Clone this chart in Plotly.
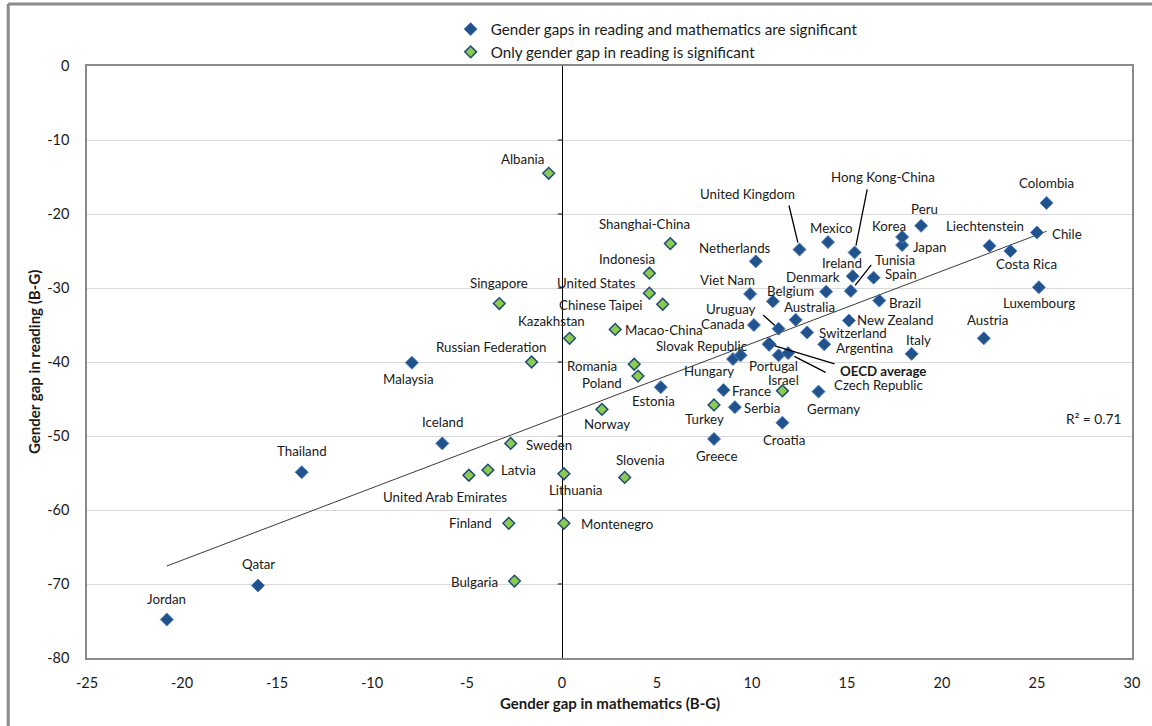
import numpy as np
import plotly.graph_objects as go

# Gender gaps (boys minus girls), PISA score points
# Countries where both reading and mathematics gaps are significant
both_names = [
    "Jordan", "Qatar", "Thailand", "Malaysia", "Iceland", "Estonia", "Greece",
    "France", "Hungary", "Slovak Republic", "Serbia", "Viet Nam", "Canada",
    "Netherlands", "Belgium", "Uruguay", "Portugal", "Croatia", "Czech Republic",
    "Australia", "United Kingdom", "Switzerland", "Germany", "Argentina",
    "Denmark", "Mexico", "New Zealand", "Tunisia", "Ireland", "Hong Kong-China",
    "Spain", "Brazil", "Japan", "Korea", "Italy", "Peru", "Austria",
    "Liechtenstein", "Costa Rica", "Chile", "Luxembourg", "Colombia",
]
both_math = [
    -20.8, -16.0, -13.7, -7.9, -6.3, 5.2, 8.0,
    8.5, 9.0, 9.4, 9.1, 9.9, 10.1,
    10.2, 11.1, 11.4, 11.4, 11.6, 11.9,
    12.3, 12.5, 12.9, 13.5, 13.8,
    13.9, 14.0, 15.1, 15.2, 15.3, 15.4,
    16.4, 16.7, 17.9, 17.9, 18.4, 18.9, 22.2,
    22.5, 23.6, 25.0, 25.1, 25.5,
]
both_read = [
    -74.8, -70.2, -54.9, -40.1, -51.0, -43.4, -50.4,
    -43.8, -39.6, -39.1, -46.1, -30.8, -35.0,
    -26.4, -31.8, -35.5, -39.1, -48.2, -38.8,
    -34.3, -24.8, -36.0, -44.0, -37.6,
    -30.5, -23.8, -34.4, -30.4, -28.4, -25.2,
    -28.6, -31.7, -24.2, -23.1, -38.9, -21.6, -36.8,
    -24.3, -25.0, -22.5, -29.9, -18.5,
]

# Countries where only the reading gap is significant
read_names = [
    "Albania", "Shanghai-China", "Indonesia", "Singapore", "United States",
    "Chinese Taipei", "Kazakhstan", "Macao-China", "Russian Federation",
    "Romania", "Poland", "Norway", "Sweden", "Latvia", "United Arab Emirates",
    "Lithuania", "Slovenia", "Finland", "Montenegro", "Bulgaria", "Turkey",
    "Israel",
]
read_math = [
    -0.7, 5.7, 4.6, -3.3, 4.6,
    5.3, 0.4, 2.8, -1.6,
    3.8, 4.0, 2.1, -2.7, -3.9, -4.9,
    0.1, 3.3, -2.8, 0.1, -2.5, 8.0,
    11.6,
]
read_read = [
    -14.5, -24.0, -28.0, -32.1, -30.7,
    -32.2, -36.8, -35.6, -40.0,
    -40.3, -41.9, -46.4, -51.0, -54.6, -55.3,
    -55.1, -55.6, -61.8, -61.8, -69.6, -45.8,
    -43.9,
]

oecd_name = "OECD average"
oecd_math = 10.9
oecd_read = -37.6

# Linear trend (reading gap = slope * maths gap + intercept) and its fit
trend_slope = 0.977
trend_intercept = -47.25
r2_text = "R² = 0.71"

x_ticks = [-25, -20, -15, -10, -5, 0, 5, 10, 15, 20, 25, 30]
x_tick_labels = ["-25", "-20", "-15", "-10", "-5", "0", "5", "10", "15", "20", "25", "30"]
y_ticks = [0, -10, -20, -30, -40, -50, -60, -70, -80]
y_tick_labels = ["0", "-10", "-20", "-30", "-40", "-50", "-60", "-70", "-80"]

# Label placement: pixel offset (dx, dy) of the label centre from its marker
label_offset = {
    "Jordan": (0, -21), "Qatar": (0, -21), "Thailand": (0, -21),
    "Malaysia": (-3, 16), "Iceland": (0, -21), "Estonia": (-7, 14),
    "Greece": (2, 17), "France": (28, 1), "Hungary": (-24, 12),
    "Slovak Republic": (-39, -9), "Serbia": (27, 1), "Viet Nam": (-23, -14),
    "Canada": (-31, -1), "Netherlands": (-21, -13), "Belgium": (18, -10),
    "Portugal": (-5, 11), "Croatia": (2, 17), "Australia": (14, -13),
    "Switzerland": (46, 1), "Germany": (15, 17), "Argentina": (40, 4),
    "Denmark": (-13, -15), "Mexico": (3, -14), "New Zealand": (46, -1),
    "Ireland": (-11, -13), "Spain": (27, -4), "Brazil": (26, 2),
    "Japan": (27, 2), "Korea": (-13, -11), "Italy": (7, -14),
    "Peru": (3, -17), "Austria": (4, -18), "Liechtenstein": (-5, -20),
    "Costa Rica": (16, 13), "Chile": (30, 1), "Luxembourg": (0, 16),
    "Colombia": (0, -20),
    "Albania": (-26, -14), "Shanghai-China": (-26, -20), "Indonesia": (-22, -14),
    "Singapore": (0, -21), "United States": (-53, -10), "Chinese Taipei": (-62, 1),
    "Kazakhstan": (-18, -17), "Macao-China": (49, 1), "Russian Federation": (-41, -15),
    "Romania": (-42, 2), "Poland": (-36, 7), "Norway": (5, 15),
    "Sweden": (38, 2), "Latvia": (31, 0), "United Arab Emirates": (-24, 22),
    "Lithuania": (12, 16), "Slovenia": (16, -17), "Finland": (-38, 0),
    "Montenegro": (53, 1), "Bulgaria": (-40, 1), "Turkey": (-10, 14),
    "Israel": (1, -11),
}
# Labels joined to their marker by a leader line:
# (label dx, label dy, line tail dx, line tail dy, standoff)
leader = {
    "United Kingdom": (-52, -56, -11, -46, 7),
    "Hong Kong-China": (28, -75, 13, -65, 7),
    "Tunisia": (44, -31, 22, -28, 7),
    "Uruguay": (-48, -20, -17, -15, 5),
    "OECD average": (114, 27, 67, 20, 6),
    "Czech Republic": (91, 32, 39, 20, 7),
}

FONT = "Lato"
TXT = "#1a1a1a"
BLUE_FILL = "#22528C"
BLUE_EDGE = "#4F7FBE"
GREEN_FILL = "#8DCB4F"
GREEN_EDGE = "#1F4E79"

fig = go.Figure()

# Trend line spanning the range of plotted countries
all_x = np.array(both_math + read_math)
fit_x = np.array([all_x.min(), all_x.max()])
fig.add_trace(go.Scatter(
    x=fit_x, y=trend_slope * fit_x + trend_intercept, mode="lines",
    line=dict(color="#3a3a3a", width=1), showlegend=False, hoverinfo="skip",
))

fig.add_trace(go.Scatter(
    x=both_math, y=both_read, mode="markers", text=both_names,
    name="Gender gaps in reading and mathematics are significant",
    marker=dict(symbol="diamond", size=10, color=BLUE_FILL,
                line=dict(color=BLUE_EDGE, width=1)),
))
fig.add_trace(go.Scatter(
    x=read_math, y=read_read, mode="markers", text=read_names,
    name="Only gender gap in reading is significant",
    marker=dict(symbol="diamond", size=9, color=GREEN_FILL,
                line=dict(color=GREEN_EDGE, width=1.5)),
))
fig.add_trace(go.Scatter(
    x=[oecd_math], y=[oecd_read], mode="markers", text=[oecd_name],
    showlegend=False,
    marker=dict(symbol="diamond", size=11, color=BLUE_FILL,
                line=dict(color=BLUE_EDGE, width=1)),
))

# Short tick marks on the vertical axis at x = 0
for yv in y_ticks[1:-1]:
    fig.add_shape(type="line", xref="x", yref="y", x0=-0.22, x1=0, y0=yv, y1=yv,
                  line=dict(color="#000000", width=1))

annotations = []
points = list(zip(both_names, both_math, both_read)) + \
    list(zip(read_names, read_math, read_read)) + [(oecd_name, oecd_math, oecd_read)]
for name, xv, yv in points:
    if name in leader:
        ldx, ldy, tdx, tdy, so = leader[name]
        annotations.append(dict(
            x=xv, y=yv, xref="x", yref="y", text=" ", showarrow=True,
            ax=tdx, ay=tdy, arrowhead=0, arrowwidth=1.3, arrowcolor="#000000",
            standoff=so, font=dict(size=1),
        ))
        dx, dy = ldx, ldy
    else:
        dx, dy = label_offset[name]
    bold = name == oecd_name
    annotations.append(dict(
        x=xv, y=yv, xref="x", yref="y",
        text=f"<b>{name}</b>" if bold else name,
        showarrow=False, xshift=dx, yshift=-dy,
        font=dict(family=FONT, size=13.3, color=TXT),
    ))

annotations.append(dict(
    x=1, y=0, xref="paper", yref="paper", xanchor="right", yanchor="middle",
    xshift=-8, yshift=240, text=r2_text, showarrow=False,
    font=dict(family=FONT, size=13.8, color=TXT),
))
annotations.append(dict(
    x=0.5, y=0, xref="paper", yref="paper", yanchor="middle", yshift=-45,
    text="<b>Gender gap in mathematics (B-G)</b>", showarrow=False,
    font=dict(family=FONT, size=15, color=TXT),
))
annotations.append(dict(
    x=0, y=0.5, xref="paper", yref="paper", xanchor="center", xshift=-53,
    text="<b>Gender gap in reading (B-G)</b>", showarrow=False, textangle=-90,
    font=dict(family=FONT, size=15, color=TXT),
))

# Outer chart frame
fig.add_shape(type="line", xref="paper", yref="paper", x0=-0.0754, x1=-0.0754,
              y0=1.1047, y1=-0.2, line=dict(color="#8a8a8a", width=3))
fig.add_shape(type="line", xref="paper", yref="paper", x0=-0.0754, x1=1.05,
              y0=1.1047, y1=1.1047, line=dict(color="#8a8a8a", width=3))

fig.update_layout(
    width=1152, height=726,
    margin=dict(l=87, r=17, t=66, b=68),
    paper_bgcolor="white", plot_bgcolor="white",
    font=dict(family=FONT, color=TXT),
    annotations=annotations,
    legend=dict(x=0.348, y=1.09, xanchor="left", yanchor="top",
                bgcolor="rgba(0,0,0,0)", font=dict(family=FONT, size=15.2, color=TXT),
                itemwidth=30, tracegroupgap=0),
    xaxis=dict(range=[-25, 30], tickvals=x_ticks, ticktext=x_tick_labels,
               showgrid=False,
               zeroline=True, zerolinecolor="#000000", zerolinewidth=1,
               showline=True, linecolor="#8a8a8a", linewidth=1.5, mirror=True,
               ticks="", ticklabelstandoff=11,
               tickfont=dict(family=FONT, size=14.5, color=TXT)),
    yaxis=dict(range=[-80, 0], tickvals=y_ticks, ticktext=y_tick_labels,
               showgrid=True,
               gridcolor="#D9D9D9", gridwidth=1, zeroline=False,
               showline=True, linecolor="#8a8a8a", linewidth=1.5, mirror=True,
               ticks="", ticklabelstandoff=13,
               tickfont=dict(family=FONT, size=14.5, color=TXT)),
)

fig.write_html("out.html")
